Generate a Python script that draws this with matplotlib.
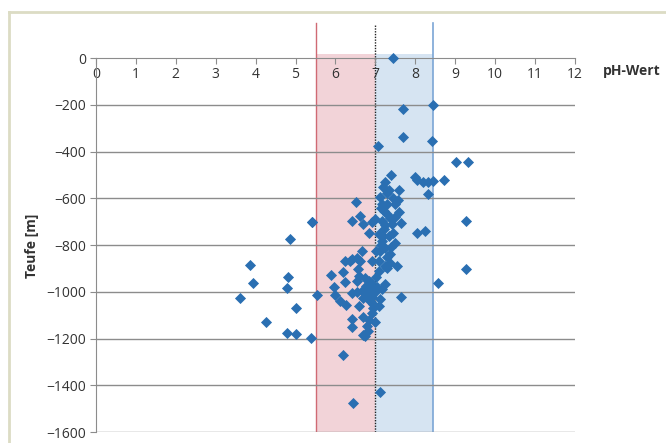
import matplotlib.pyplot as plt
from matplotlib.lines import Line2D

# pH values and depth (Teufe) in m
ph = [7.45, 8.45, 7.69, 7.70, 8.42, 7.07, 9.01, 9.33, 7.39, 8.00,
      8.05, 8.20, 8.33, 8.45, 8.71, 7.25, 7.19, 7.35, 7.60, 8.32,
      7.12, 7.57, 6.51, 7.17, 7.50, 6.62, 5.41, 6.41, 6.70, 6.83,
      6.91, 7.00, 6.66, 6.54, 6.41, 7.29, 7.21, 7.58, 7.37, 7.42,
      7.17, 7.21, 7.09, 7.17, 7.50, 7.25, 7.12, 7.37, 8.05, 8.25,
      9.28, 9.28, 8.57, 7.64, 7.54, 7.29, 7.25, 4.86, 3.86, 3.94,
      3.62, 4.82, 4.78, 5.01, 4.25, 4.78, 5.01, 5.38, 5.53, 5.88,
      6.20, 5.97, 6.24, 5.99, 6.27, 6.41, 6.54, 6.66, 6.70, 6.83,
      6.91, 6.87, 6.95, 6.91, 6.70, 6.41, 6.41, 6.79, 6.70, 6.82,
      6.37, 6.62, 6.91, 7.12, 7.08, 7.25, 7.37, 7.17, 6.19, 7.12,
      6.43, 6.75, 6.92, 7.02, 7.08, 6.24, 6.57, 6.77, 7.02, 7.43,
      6.12, 7.65, 5.40,
      7.30, 7.45, 7.15, 7.30, 7.50, 7.25, 7.35, 7.15, 7.40, 7.30,
      7.10, 7.20, 6.60, 6.75, 6.90, 7.00, 6.80, 6.60, 6.85, 7.00,
      6.55, 6.95, 7.05]
teufe = [0, -202, -215, -338, -352, -374, -445, -445, -498, -510,
         -520, -528, -528, -524, -520, -528, -553, -563, -563, -580,
         -592, -606, -617, -622, -622, -674, -703, -696, -710, -746,
         -703, -689, -825, -854, -861, -624, -653, -660, -682, -710,
         -696, -732, -753, -782, -789, -811, -825, -839, -746, -739,
         -696, -901, -961, -1021, -889, -897, -968, -773, -886, -961,
         -1025, -936, -985, -1071, -1128, -1178, -1180, -1197, -1015, -928,
         -915, -978, -958, -1015, -1058, -1004, -954, -997, -1025, -954,
         -989, -1040, -1068, -1090, -1107, -1116, -1151, -1147, -1183, -1168,
         -868, -868, -868, -1032, -1061, -889, -875, -989, -1269, -1429,
         -1474, -1190, -1022, -937, -911, -868, -902, -975, -825, -748,
         -1040, -705, -700,
         -575, -600, -640, -665, -680, -715, -760, -800, -810, -850,
         -870, -760, -930, -940, -960, -1000, -1010, -1060, -1120, -1130,
         -1000, -1050, -980]

xticks = list(range(0, 13))
yticks = list(range(-1600, 1, 200))

plt.rcParams['font.family'] = ['Open Sans', 'DejaVu Sans']

fig = plt.figure(figsize=(6.66, 4.43), dpi=100)
ax = fig.add_axes([0.1441, 0.0248, 0.7192, 0.928])

# Excel style frame around the chart
fig.add_artist(Line2D([0.0135, 0.0135], [0, 0.973], transform=fig.transFigure,
                      color='#dcdcc4', lw=2))
fig.add_artist(Line2D([0.0135, 1.0], [0.973, 0.973], transform=fig.transFigure,
                      color='#dcdcc4', lw=2))

# ranges: acid-ish (red) and alkaline-ish (blue)
ax.fill_between([5.5, 7.0], -1600, 17, color='#f2d3d8', lw=0, zorder=0)
ax.fill_between([7.0, 8.45], -1600, 17, color='#d6e4f2', lw=0, zorder=0)
ax.plot([5.5, 5.5], [-1600, 150], color='#d06a74', lw=1, zorder=1)
ax.plot([8.45, 8.45], [-1600, 150], color='#7ba6d6', lw=1.2, zorder=1)
ax.plot([7.0, 7.0], [-1600, 145], color='#222222', lw=1, ls=(0, (1, 1)), zorder=1)

for y in yticks[:-1]:
    ax.plot([0, 12], [y, y], color='#8c8c8c', lw=1, zorder=1)

ax.scatter(ph, teufe, marker='D', s=32, color='#2a6fb2', lw=0, zorder=3)

ax.set_xlim(0, 12)
ax.set_ylim(-1600, 160)
ax.spines['top'].set_visible(False)
ax.spines['right'].set_visible(False)
ax.spines['bottom'].set_position(('data', 0))
ax.spines['bottom'].set_color('#8c8c8c')
ax.spines['left'].set_color('#8c8c8c')
ax.spines['left'].set_bounds(-1600, 0)
ax.set_xticks(xticks)
ax.set_yticks(yticks)
ax.tick_params(axis='x', direction='out', length=4, color='#8c8c8c', pad=2,
               labelsize=10, labelcolor='#333333')
ax.tick_params(axis='y', direction='out', length=4, color='#8c8c8c', pad=3,
               labelsize=10, labelcolor='#333333')
ax.set_facecolor('none')

fig.text(0.905, 0.84, 'pH-Wert', fontsize=10, fontweight='bold', color='#333333',
         ha='left', va='center')
fig.text(0.048, 0.445, 'Teufe [m]', fontsize=10, fontweight='bold', color='#333333',
         ha='center', va='center', rotation=90)

fig.savefig('out.png', dpi=100)
